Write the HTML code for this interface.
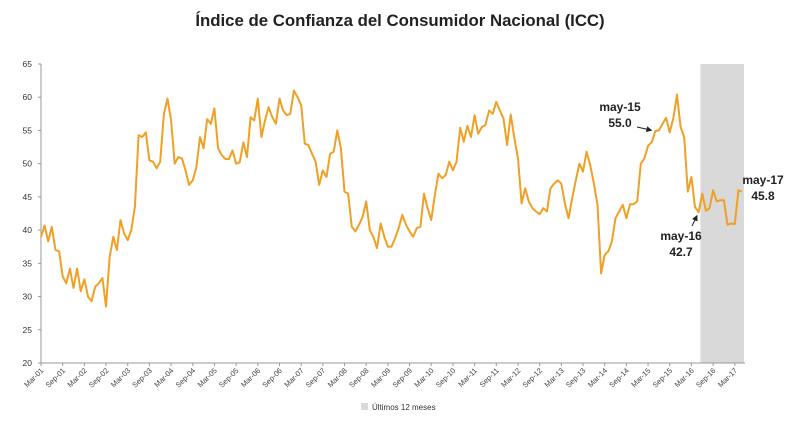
<!DOCTYPE html>
<html><head><meta charset="utf-8"><style>
html,body{margin:0;padding:0;background:#fff;}
svg{display:block;font-family:"Liberation Sans",sans-serif;}
</style></head><body>
<svg id="chart" width="800" height="428" viewBox="0 0 800 428" xmlns="http://www.w3.org/2000/svg">
<text x="400" y="26" text-anchor="middle" font-size="16.8" font-weight="bold" fill="#222">Índice de Confianza del Consumidor Nacional (ICC)</text>
<g id="shade"></g>
<g id="axes"></g>
<g id="series"></g>
<g id="ann"></g>
<g>
<rect x="361" y="403" width="7" height="7" fill="#d9d9d9"></rect>
<text x="372" y="410" font-size="8" fill="#333">Últimos 12 meses</text>
</g>
</svg>
<script>
const yTicks = [20,25,30,35,40,45,50,55,60,65];
const xLabels = ["Mar-01","Sep-01","Mar-02","Sep-02","Mar-03","Sep-03","Mar-04","Sep-04","Mar-05","Sep-05","Mar-06","Sep-06","Mar-07","Sep-07","Mar-08","Sep-08","Mar-09","Sep-09","Mar-10","Sep-10","Mar-11","Sep-11","Mar-12","Sep-12","Mar-13","Sep-13","Mar-14","Sep-14","Mar-15","Sep-15","Mar-16","Sep-16","Mar-17"];
const iccValues = [39,40.7,38.3,40.5,37,36.8,33,32,34.2,31.3,34.2,30.8,32.6,30,29.3,31.5,32,32.8,28.5,36,39,37,41.5,39.5,38.5,40,43.5,54.3,54,54.7,50.5,50.3,49.3,50.3,57.5,59.8,56.5,50,51,50.8,49,46.8,47.5,49.5,54,52.3,56.7,56,58.3,52.3,51.3,50.7,50.7,52,50,50.2,53.2,51,57,56.5,59.8,54,56.5,
58.5,57,56,59.8,58,57.3,57.5,61,60,58.8,53,52.8,51.5,50.3,46.8,49,48,51.5,51.8,55,52.3,45.8,45.5,40.5,39.8,40.8,42,44.3,40,39,37.3,41,39,37.5,37.5,38.8,40.3,42.3,40.8,39.8,39,40.3,40.5,45.5,43.3,41.5,45.3,48.5,47.8,48.3,50.3,49,50.3,55.4,53.3,55.7,54,57.3,54.5,55.5,55.8,58,57.5,59.3,58,56.8,52.8,57.4,53.8,50.8,44,46.3,44.3,
43.3,42.8,42.4,43.3,42.8,46.3,47,47.5,47,44,41.8,44.8,47.5,50,48.8,51.8,49.8,47,43.8,33.5,36.3,36.8,38.3,41.8,42.8,43.8,41.8,43.9,43.9,44.3,50,50.8,52.7,53.2,54.9,55,56,56.9,54.7,56.8,60.4,55.5,54,45.8,48,43.5,42.7,45.5,42.9,43.3,46,44.3,44.5,44.5,40.8,41,40.9,46,45.8];
const shadeStart = 183;
const annotations = [
 {i:170, label:"may-15", val:"55.0", tx:620, ty:111, ax:637, ay:127},
 {i:182, label:"may-16", val:"42.7", tx:681, ty:240, ax:692, ay:226},
 {i:194, label:"may-17", val:"45.8", tx:763, ty:184, ax:null, ay:null}
];
const X0=41, X1=742, Y0=363, Y1=64;
const n = iccValues.length;
function xs(i){return X0+(X1-X0)*i/(n-1);}
function ys(v){return Y0-(v-20)/(65-20)*(Y0-Y1);}
const NS="http://www.w3.org/2000/svg";
function mk(tag,attrs,parent){const e=document.createElementNS(NS,tag);for(const k in attrs)e.setAttribute(k,attrs[k]);parent.appendChild(e);return e;}
const shade=document.getElementById('shade'), axes=document.getElementById('axes'), series=document.getElementById('series'), ann=document.getElementById('ann');
const r=mk('rect',{x:xs(shadeStart-0.5),y:Y1,width:X1+2-xs(shadeStart-0.5),height:Y0-Y1,fill:'#d9d9d9'},shade);


const ya=mk('line',{x1:X0,y1:Y1,x2:X0,y2:Y0,stroke:'#999','stroke-width':1},axes);


const xa=mk('line',{x1:X0,y1:Y0,x2:X1+3,y2:Y0,stroke:'#999','stroke-width':1},axes);


yTicks.forEach(t=>{
 mk('line',{x1:X0-3,y1:ys(t),x2:X0,y2:ys(t),stroke:'#999'},axes);
 const tx=mk('text',{x:X0-9,y:ys(t)+3,'text-anchor':'end','font-size':8.5,fill:'#333'},axes);
 tx.textContent=t;
 
 
});
xLabels.forEach((l,k)=>{
 const x=xs(k*6);
 mk('line',{x1:x,y1:Y0,x2:x,y2:Y0+3,stroke:'#999'},axes);
 const tx=mk('text',{x:x+3,y:Y0+8,'text-anchor':'end','font-size':7.5,fill:'#444',transform:`rotate(-45 ${x+3} ${Y0+8})`},axes);
 tx.textContent=l;
 
 
});
const pts=iccValues.map((v,i)=>xs(i).toFixed(1)+','+ys(v).toFixed(1)).join(' ');
const pl=mk('polyline',{points:pts,fill:'none',stroke:'#f0a024','stroke-width':2,'stroke-linejoin':'round'},series);


mk('defs',{},ann).innerHTML='<marker id="ah" markerWidth="6" markerHeight="6" refX="5" refY="3" orient="auto"><path d="M0,0 L6,3 L0,6 z" fill="#222"/></marker>';
annotations.forEach(a=>{
 const g=mk('g',{},ann);
 
 
 const t1=mk('text',{x:a.tx,y:a.ty,'text-anchor':'middle','font-size':12,'font-weight':'bold',fill:'#222'},g);
 t1.textContent=a.label;
 const t2=mk('text',{x:a.tx,y:a.ty+16,'text-anchor':'middle','font-size':12,'font-weight':'bold',fill:'#222'},g);
 t2.textContent=a.val;
 if(a.ax!==null){
  const px=xs(a.i), py=ys(iccValues[a.i]);
  const dx=px-a.ax, dy=py-a.ay, d=Math.hypot(dx,dy);
  mk('line',{x1:a.ax,y1:a.ay,x2:px-dx/d*4,y2:py-dy/d*4,stroke:'#222','stroke-width':1,'marker-end':'url(#ah)'},g);
 }
});
</script>
</body></html>
